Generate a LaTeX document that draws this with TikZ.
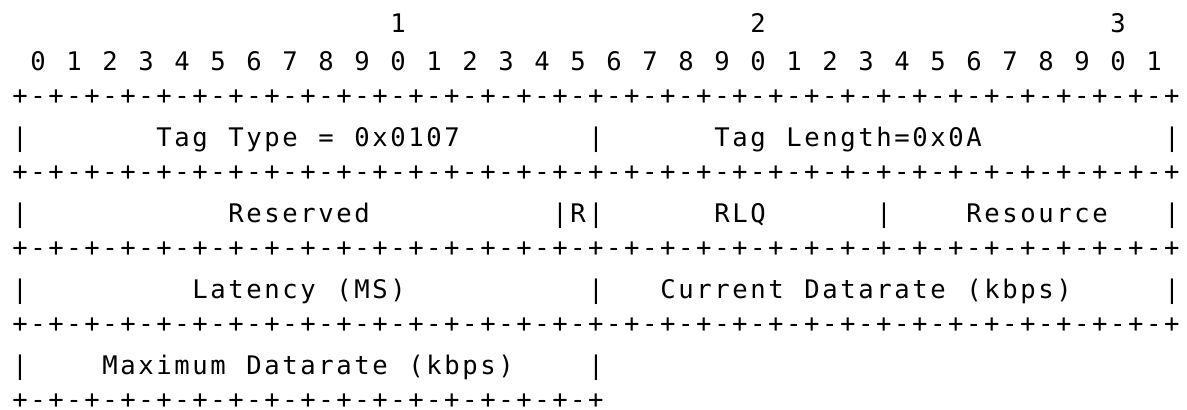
\documentclass[tikz,border=0pt]{standalone}
\usepackage{fontspec}
\newfontfamily\artfont{DejaVu Sans Mono}
\newlength{\cw}
\setlength{\cw}{9pt}
% one fixed cell per character
\ExplSyntaxOn
\NewDocumentCommand{\cells}{m}{\str_map_inline:nn {#1} {\makebox[\cw]{##1}}}
\ExplSyntaxOff

\begin{document}
\begin{tikzpicture}[
  x=\cw, y=-19pt,
  art/.style={anchor=base west, inner sep=0pt, outer sep=0pt, font=\artfont\fontsize{12.8pt}{15pt}\selectfont},
  border/.style={art, yshift=2pt},
]
\useasboundingbox (0,0) rectangle (593.5pt,-204.5pt);
\begin{scope}[shift={(5.5pt,-16pt)}]
% bit numbers
\foreach \t in {1,2,3}
  \node[art] (tens\t) at (20*\t+1,0) {\makebox[\cw]{\t}};
\foreach \i in {0,...,31} {
  \pgfmathtruncatemacro{\d}{mod(\i,10)}
  \node[art] (bit\i) at (2*\i+1,1) {\makebox[\cw]{\d}};
}
% borders
\foreach \r in {2,4,6,8}
  \node[border] (rule\r) at (0,\r) {\cells{+-+-+-+-+-+-+-+-+-+-+-+-+-+-+-+-+-+-+-+-+-+-+-+-+-+-+-+-+-+-+-+-+}};
\node[border] (rule10) at (0,10) {\cells{+-+-+-+-+-+-+-+-+-+-+-+-+-+-+-+-+}};
\foreach \r/\c in {3/0,3/32,3/64,5/0,5/48,5/64,7/0,7/32,7/64,9/0,9/32}
  \node[art] (bar-\r-\c) at (\c,\r) {\cells{|}};
% fields
\node[art] (tagtype) at (8,3) {\cells{Tag Type = 0x0107}};
\node[art] (taglength) at (39,3) {\cells{Tag Length=0x0A}};
\node[art] (reserved) at (12,5) {\cells{Reserved}};
\node[art] (rflag) at (30,5) {\cells{|R|}};
\node[art] (rlq) at (39,5) {\cells{RLQ}};
\node[art] (resource) at (53,5) {\cells{Resource}};
\node[art] (latency) at (10,7) {\cells{Latency (MS)}};
\node[art] (curdatarate) at (36,7) {\cells{Current Datarate (kbps)}};
\node[art] (maxdatarate) at (5,9) {\cells{Maximum Datarate (kbps)}};
\end{scope}
\end{tikzpicture}
\end{document}
